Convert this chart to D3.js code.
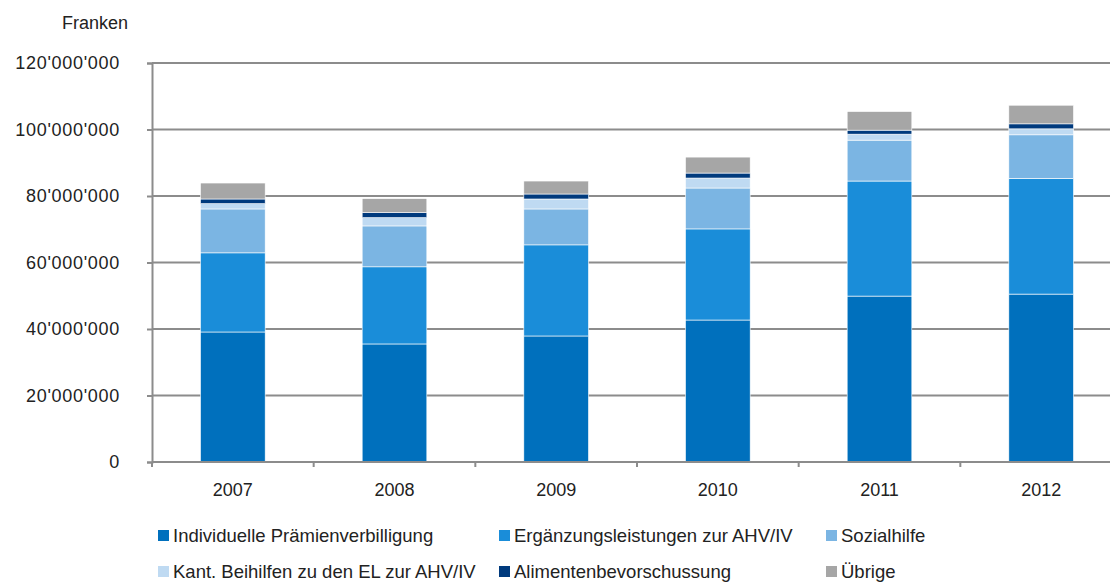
<!DOCTYPE html>
<html>
<head>
<meta charset="utf-8">
<script src="https://cdn.jsdelivr.net/npm/d3@7"></script>
<style>
  body { margin: 0; background: #fff; }
  svg text { font-family: "Liberation Sans", Arial, sans-serif; fill: #222; }
</style>
</head>
<body>
<div id="chart"></div>
<script>
// data (Franken)
var years = ["2007", "2008", "2009", "2010", "2011", "2012"];
var seriesNames = ["Individuelle Prämienverbilligung", "Ergänzungsleistungen zur AHV/IV", "Sozialhilfe",
                   "Kant. Beihilfen zu den EL zur AHV/IV", "Alimentenbevorschussung", "Übrige"];
var praemien   = [39100000, 35500000, 37900000, 42700000, 49900000, 50500000];
var ergaenzung = [23800000, 23200000, 27400000, 27400000, 34600000, 34800000];
var sozialhilfe = [13200000, 12300000, 10800000, 12300000, 12300000, 13100000];
var beihilfen  = [1600000, 2500000, 3000000, 3000000, 1800000, 1800000];
var alimente   = [1400000, 1500000, 1500000, 1500000, 1200000, 1500000];
var uebrige    = [4800000, 4200000, 3900000, 4800000, 5600000, 5600000];
var yTicks = [0, 20000000, 40000000, 60000000, 80000000, 100000000, 120000000];
var colors = ["#0070bd", "#1a8dd9", "#7bb5e3", "#bfdaf2", "#003a7d", "#a6a6a6"];

var keys = ["p", "e", "s", "b", "a", "u"];
var table = years.map(function(y, i) {
  return {year: y, p: praemien[i], e: ergaenzung[i], s: sozialhilfe[i],
          b: beihilfen[i], a: alimente[i], u: uebrige[i]};
});

var W = 1110, H = 583;
var svg = d3.select("#chart").append("svg")
  .attr("width", W).attr("height", H);

var x = d3.scaleBand().domain(years).range([152, 1122]).paddingInner(0.6).paddingOuter(0.3);
var y = d3.scaleLinear().domain([0, 120000000]).range([462, 63]);

var fmt = function(d) { return d3.format(",")(d).replace(/,/g, "'"); };

// gridlines
svg.append("g").selectAll("line")
  .data(yTicks.slice(1))
  .enter().append("line")
    .attr("x1", 152).attr("x2", W)
    .attr("y1", function(d) { return y(d); })
    .attr("y2", function(d) { return y(d); })
    .attr("stroke", "#8c8c8c").attr("stroke-width", 2);

// stacked bars
var stack = d3.stack().keys(keys)(table);
svg.append("g").selectAll("g")
  .data(stack)
  .enter().append("g")
    .attr("fill", function(d, i) { return colors[i]; })
  .selectAll("rect")
  .data(function(d) { return d; })
  .enter().append("rect")
    .attr("x", function(d) { return x(d.data.year); })
    .attr("width", x.bandwidth())
    .attr("y", function(d) { return y(d[1]); })
    .attr("height", function(d) { return y(d[0]) - y(d[1]); })
    .attr("stroke", "#fff").attr("stroke-width", 0.6);

// y axis
var yAxis = svg.append("g")
  .attr("transform", "translate(152,0)")
  .call(d3.axisLeft(y).tickValues(yTicks).tickFormat(fmt).tickSize(5).tickPadding(27));
yAxis.select(".domain").attr("stroke", "#8c8c8c").attr("stroke-width", 2);
yAxis.selectAll(".tick line").attr("stroke", "#8c8c8c").attr("stroke-width", 2);
yAxis.selectAll("text").style("font-size", "18px").style("letter-spacing", "0.7px").attr("fill", "#222");

// x axis with ticks at category boundaries
var xAxis = svg.append("g").attr("transform", "translate(0,462)");
xAxis.append("line").attr("x1", 152).attr("x2", W).attr("stroke", "#8c8c8c").attr("stroke-width", 2);
var step = x.step();
xAxis.selectAll(".bnd")
  .data(years)
  .enter().append("line")
    .attr("x1", function(d) { return x(d) + x.bandwidth() / 2 - step / 2; })
    .attr("x2", function(d) { return x(d) + x.bandwidth() / 2 - step / 2; })
    .attr("y1", 0).attr("y2", 5)
    .attr("stroke", "#8c8c8c").attr("stroke-width", 2);
xAxis.selectAll("text")
  .data(years)
  .enter().append("text")
    .attr("x", function(d) { return x(d) + x.bandwidth() / 2; })
    .attr("y", 34)
    .attr("text-anchor", "middle")
    .style("font-size", "18px")
    .text(function(d) { return d; });

// unit label
svg.append("text")
  .attr("x", 128).attr("y", 29)
  .attr("text-anchor", "end")
  .style("font-size", "18px")
  .text("Franken");

// legend
var legX = [158, 499, 826], legY = [542, 578];
var leg = svg.append("g").selectAll("g")
  .data(seriesNames)
  .enter().append("g")
    .attr("transform", function(d, i) {
      return "translate(" + legX[i % 3] + "," + legY[Math.floor(i / 3)] + ")";
    });
leg.append("rect")
  .attr("x", 0).attr("y", -12).attr("width", 11).attr("height", 11)
  .attr("fill", function(d, i) { return colors[i]; });
leg.append("text")
  .attr("x", 15).attr("y", 0)
  .style("font-size", "18.5px")
  .text(function(d) { return d; });
</script>
</body>
</html>
